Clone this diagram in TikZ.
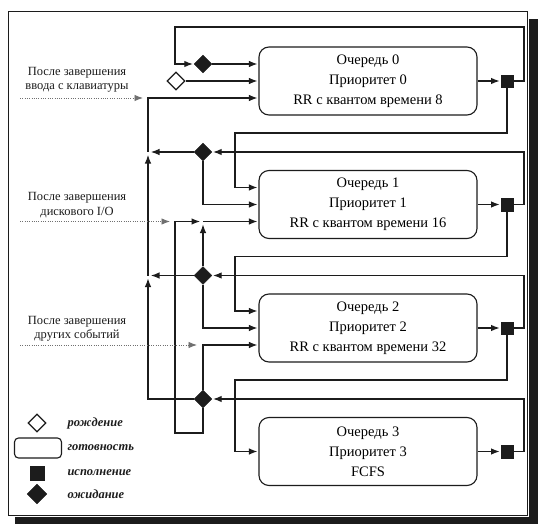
\documentclass[tikz,border=0pt]{standalone}
\usepackage{fontspec}
\setmainfont{Liberation Serif}
\usetikzlibrary{arrows.meta,shapes.geometric,calc}
\definecolor{ink}{HTML}{1C1C1C}
\definecolor{faint}{HTML}{707070}
\tikzset{
  wire/.style={line width=1.1pt,draw=ink},
  flow/.style={wire,-{Latex[length=8.5pt,width=6.5pt]},shorten >=1pt},
  meet/.style={flow,shorten >=3pt},
  queue/.style={draw=ink,line width=1.1pt,rounded corners=10pt,minimum width=218pt,minimum height=68pt,
    align=center,inner sep=0pt,font=\fontsize{14.5}{20}\selectfont},
  run/.style={draw=ink,fill=ink,minimum size=12.5pt,inner sep=0pt},
  wait/.style={diamond,draw=ink,fill=ink,minimum size=18pt,inner sep=0pt},
  born/.style={diamond,draw=ink,fill=white,line width=1.1pt,minimum size=18pt,inner sep=0pt},
  event/.style={draw=faint,line width=0.9pt,dash pattern=on 1pt off 1.3pt,-{Latex[length=8.5pt,width=6.5pt]}},
  note/.style={font=\fontsize{12.5}{14.5}\selectfont,align=center,text=ink},
  key/.style={font=\fontsize{12.5}{14}\selectfont\bfseries\itshape,anchor=west,text=ink}
}

\begin{document}
\begin{tikzpicture}[x=1pt,y=-1pt]
  \useasboundingbox (0,0) rectangle (538,524);
  % frame and its shadow
  \fill[ink] (529,19) rectangle (538,524);
  \fill[ink] (15,517) rectangle (538,524);
  \draw[line width=1pt,ink,fill=white] (8,12) rectangle (527,515);
  % queues with their running squares
  \foreach \i/\cy/\tq in {0/81/{RR с квантом времени 8},1/204.5/{RR с квантом времени 16},
      2/328/{RR с квантом времени 32},3/451.5/FCFS} {
    \node[queue] (q\i) at (368,\cy) {Очередь \i\\Приоритет \i\\\tq};
    \node[run] (e\i) at (507,\cy) {};
    \draw[flow] (q\i.east) -- (e\i.west);
  }
  \node[wait] (w0) at (203,64) {};
  \foreach \i/\wy in {1/152,2/275.5,3/399} \node[wait] (w\i) at (203,\wy) {};
  \node[born] (b0) at (176,81) {};
  % queue 0 loops back to itself
  \draw[flow] (e0.east) -| (524,27) -| (175,64) -- (w0.west);
  \draw[flow] (w0.east) -- (q0.west |- w0);
  \draw[flow] (b0.east) -- (q0.west);
  % quantum used up: one queue lower
  \foreach \i/\j/\dy in {0/1/-17,1/2/-17,2/3/0}
    \draw[flow] (e\i.south) |- ($(e\i)+(-272,52)$) |- ($(q\j.west)+(0,\dy)$);
  % into waiting
  \foreach \i in {1,2,3}
    \draw[flow] (e\i.east) -| ($(e\i)+(17,-52.5)$) -- (w\i.east);
  % out of waiting
  \draw[flow] (w1.south) |- (q1.west);
  \draw[flow] (w2.south) |- (q2.west);
  \draw[flow] (w3.north) |- ($(q2.west)+(0,17)$);
  \coordinate (d1) at (203,221.5);
  \draw[meet] (w2.north) -- (d1);
  \draw[meet] (w3.south) |- (175,433) |- (d1);
  \draw[flow] (d1) -- (q1.west |- d1);
  \coordinate (k1) at (148,152);
  \coordinate (k2) at (148,275.5);
  \draw[meet] (w1.west) -- (k1);
  \draw[meet] (w2.west) -- (k2);
  \draw[meet] (w3.west) -| (k2);
  \draw[meet] (k2) -- (k1);
  \draw[flow] (k1) |- ($(q0.west)+(0,17)$);
  % events that end the waiting
  \node[note] (n0) at (77,80) {После завершения\\ввода с клавиатуры};
  \node[note] (n1) at (77,205) {После завершения\\дискового I/O};
  \node[note] (n2) at (77,329) {После завершения\\других событий};
  \coordinate (s0) at (20,98);   \coordinate (f0) at (143,98);
  \coordinate (s1) at (20,221.5); \coordinate (f1) at (170,221.5);
  \coordinate (s2) at (20,345);  \coordinate (f2) at (197,345);
  \foreach \i in {0,1,2} \draw[event] (s\i) -- (f\i);
  % legend
  \node[born] (lb) at (37,423) {};
  \node[draw=ink,line width=1.1pt,rounded corners=4pt,minimum width=47pt,minimum height=20pt] (lq) at (38,448) {};
  \node[run,minimum size=14pt] (lr) at (37,473) {};
  \node[wait,minimum size=20pt] (lw) at (37,494) {};
  \foreach \ly/\lt in {423/рождение,448/готовность,473/исполнение,494/ожидание}
    \node[key] (lt\ly) at (64,\ly) {\lt};
\end{tikzpicture}
\end{document}
